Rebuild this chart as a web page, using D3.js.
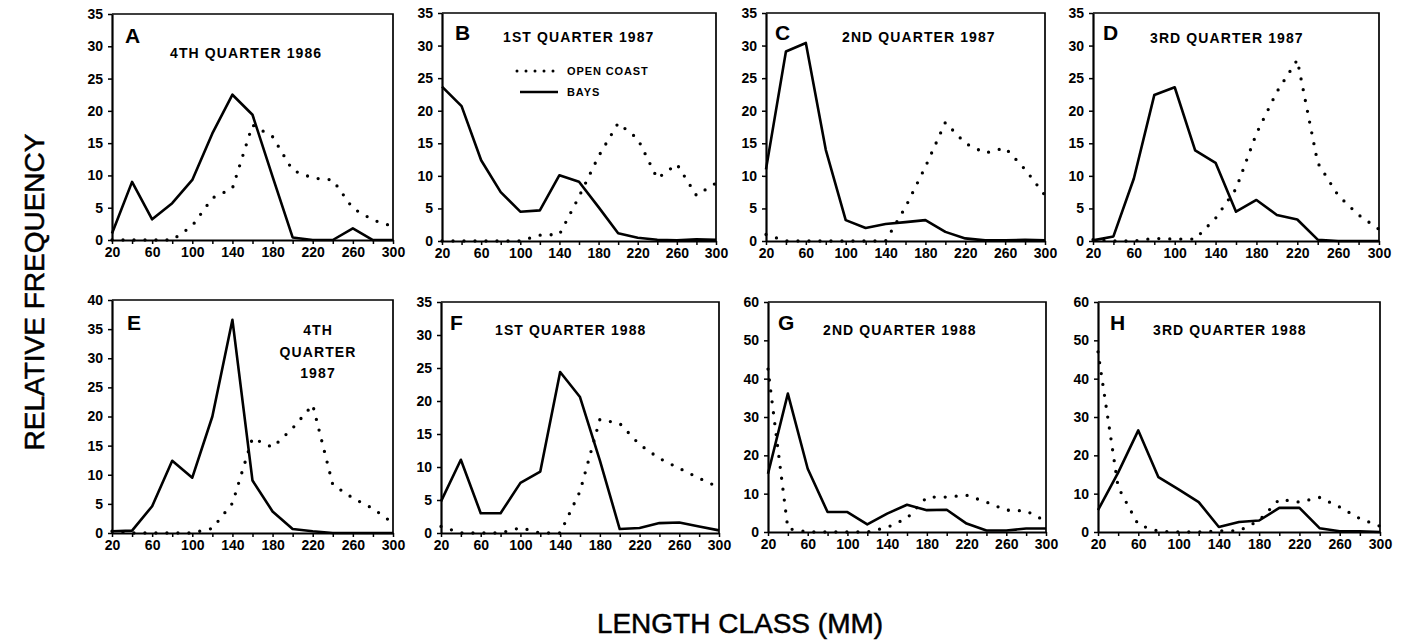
<!DOCTYPE html>
<html><head><meta charset="utf-8">
<script src="https://cdn.jsdelivr.net/npm/d3@7"></script>
<style>
body{margin:0;background:#fff}
text{font-family:"Liberation Sans",Arial,sans-serif;fill:#000}
</style>
</head><body>
<svg id="c" width="1402" height="642"></svg>
<script>
// ---------- DATA ----------
const lengthClasses = [20,40,60,80,100,120,140,160,180,200,220,240,260,280,300];
const xTickLabels = [20,60,100,140,180,220,260,300];
const panelLetters = ["A","B","C","D","E","F","G","H"];
const panelTitles = [["4TH QUARTER 1986"],["1ST QUARTER 1987"],["2ND QUARTER 1987"],["3RD QUARTER 1987"],
                     ["4TH","QUARTER","1987"],["1ST QUARTER 1988"],["2ND QUARTER 1988"],["3RD QUARTER 1988"]];
const yMaxes = [35,35,35,35,40,35,60,60];
const ySteps = [5,5,5,5,5,5,10,10];
const seriesNames = ["OPEN COAST","BAYS"];

const openA = [0,0,0,0,2.2,6.5,8.0,17.8,16.0,10.8,9.6,9.3,4.9,3.1,2.1];
const baysA = [1.0,9.0,3.2,5.7,9.3,16.5,22.5,19.4,9.8,0.4,0,0,1.8,0,0];
const openB = [0,0,0,0,0,0.9,1.0,6.8,13.0,18.1,15.7,9.6,11.8,7.0,8.9];
const baysB = [23.7,20.7,12.4,7.5,4.5,4.7,10.1,9.1,5.2,1.2,0.5,0.2,0.1,0.25,0.2];
const openC = [1.0,0,0,0,0,0,0,5.2,11.4,18.2,15.0,13.5,14.3,11.0,7.0];
const baysC = [11.0,29.1,30.4,14.0,3.2,2.0,2.6,2.9,3.2,1.4,0.4,0.1,0.1,0.2,0.1];
const openD = [0.2,0,0,0.4,0.3,0.3,3.5,8.0,16.5,22.9,27.8,12.0,7.0,4.0,1.8];
const baysD = [0.1,0.7,9.6,22.4,23.6,13.9,12.0,4.5,6.3,4.0,3.3,0.2,0,0,0];
const openE = [0.3,0,0,0,0,0.8,5.1,16.3,14.7,18.0,22.0,8.3,6.0,4.2,1.7];
const baysE = [0.3,0.4,4.6,12.4,9.5,20.0,36.6,9.0,3.7,0.7,0.3,0,0,0,0];
const openF = [1.0,0,0,0,0.8,0,0,6.3,17.2,16.6,13.4,11.3,9.8,8.3,6.9];
const baysF = [4.8,11.1,3.0,3.0,7.6,9.3,24.4,20.6,11.0,0.6,0.75,1.5,1.6,1.0,0.4];
const openG = [42.5,0.9,0,0,0,0,1.2,3.6,9.1,9.1,9.6,7.8,5.7,5.5,2.8];
const baysG = [15.2,36.1,16.5,5.2,5.2,2.0,4.8,7.1,5.7,5.8,2.2,0.4,0.4,0.9,0.9];
const openH = [47.0,11.7,1.9,0.2,0,0,0.3,0.3,3.0,8.5,7.8,9.0,6.5,3.5,1.5];
const baysH = [5.7,15.5,26.5,14.3,11.1,7.8,1.3,2.6,3.0,6.3,6.3,1.0,0.2,0.2,0];

const openSeries = [openA,openB,openC,openD,openE,openF,openG,openH];
const baysSeries = [baysA,baysB,baysC,baysD,baysE,baysF,baysG,baysH];

// ---------- LAYOUT ----------
const frames = [
  {l:112,r:393,t:14,b:240},{l:442,r:716,t:13,b:241},{l:766,r:1045,t:13,b:241},{l:1093,r:1379,t:13,b:241},
  {l:112,r:393,t:300,b:533},{l:441,r:719,t:302,b:533},{l:768,r:1046,t:302,b:532},{l:1098,r:1380,t:302,b:532}
];
const letterPos = [[13,29],[13,27],[9,27],[10,27],[15,30],[9,28],[10,28],[12,28]];
const titlePos = [[58,44],[61,29],[76,29],[57,30],[206,35],[54,33],[55,33],[55,33]];

const svg = d3.select("#c");
const dotStyle = s => s.attr("fill","none").attr("stroke","#000").attr("stroke-width",3.3)
  .attr("stroke-linecap","round").attr("stroke-dasharray","0,11");
const solidStyle = s => s.attr("fill","none").attr("stroke","#000").attr("stroke-width",2.6)
  .attr("stroke-linejoin","round");

panelLetters.forEach((letter,i)=>{
  const f = frames[i];
  const x = d3.scaleLinear().domain([20,300]).range([f.l,f.r]);
  const y = d3.scaleLinear().domain([0,yMaxes[i]]).range([f.b,f.t]);
  const g = svg.append("g");

  // top/right frame
  g.append("path").attr("d",`M${f.l},${f.t}H${f.r}V${f.b}`)
    .attr("fill","none").attr("stroke","#000").attr("stroke-width",1.7);

  const yAxis = d3.axisLeft(y).tickValues(d3.range(0,yMaxes[i]+0.01,ySteps[i]))
    .tickSize(4).tickSizeOuter(0).tickPadding(5);
  const ya = g.append("g").attr("transform",`translate(${f.l},0)`).call(yAxis);
  const xAxis = d3.axisBottom(x).tickValues(lengthClasses)
    .tickFormat(d=>xTickLabels.includes(d)?d:"").tickSize(4).tickSizeOuter(0).tickPadding(3);
  const xa = g.append("g").attr("transform",`translate(0,${f.b})`).call(xAxis);
  [ya,xa].forEach(a=>{
    a.select(".domain").attr("stroke","#000").attr("stroke-width",2.2);
    a.selectAll(".tick line").attr("stroke","#000").attr("stroke-width",1.5);
    a.selectAll(".tick text").style("font-size","14px").style("font-weight","bold").attr("fill","#000");
  });

  const line = d3.line().x((d,k)=>x(lengthClasses[k])).y(d=>y(d));
  g.append("path").datum(openSeries[i]).attr("d",line).call(dotStyle);
  g.append("path").datum(baysSeries[i]).attr("d",line).call(solidStyle);

  // letter
  g.append("text").attr("x",f.l+letterPos[i][0]).attr("y",f.t+letterPos[i][1])
    .style("font-size","21px").style("font-weight","bold").text(letter);
  // title
  const tl = panelTitles[i];
  const t = g.append("text").attr("x",f.l+titlePos[i][0]).attr("y",f.t+titlePos[i][1])
    .style("font-size","14px").style("font-weight","bold").style("letter-spacing","1.1px")
    .attr("text-anchor", tl.length>1 ? "middle" : "start");
  tl.forEach((s,k)=>t.append("tspan").attr("x",f.l+titlePos[i][0]).attr("dy",k?21.5:0).text(s));

  // legend in panel B
  if (i===1){
    const lx = d3.scaleLinear().domain([0,1]).range([f.l+75,f.l+113]);
    g.append("path").datum([0,1]).attr("d",d3.line().x(d=>lx(d)).y(()=>f.t+58)).call(dotStyle)
      .attr("stroke-dasharray","0,9").attr("stroke-width",3);
    g.append("path").datum([0,1]).attr("d",d3.line().x(d=>lx(d)+3).y(()=>f.t+79)).call(solidStyle);
    g.append("text").attr("x",f.l+125).attr("y",f.t+62).style("font-size","11px").style("font-weight","bold")
      .style("letter-spacing","0.9px").text(seriesNames[0]);
    g.append("text").attr("x",f.l+125).attr("y",f.t+83).style("font-size","11px").style("font-weight","bold")
      .style("letter-spacing","0.9px").text(seriesNames[1]);
  }
});

// axis titles
svg.append("text").attr("transform","translate(44,292) rotate(-90)").attr("text-anchor","middle")
  .style("font-size","28px").attr("stroke","#000").attr("stroke-width",0.5).text("RELATIVE FREQUENCY");
svg.append("text").attr("x",740).attr("y",633).attr("text-anchor","middle")
  .style("font-size","28px").attr("stroke","#000").attr("stroke-width",0.5).text("LENGTH CLASS (MM)");
</script>
</body></html>
